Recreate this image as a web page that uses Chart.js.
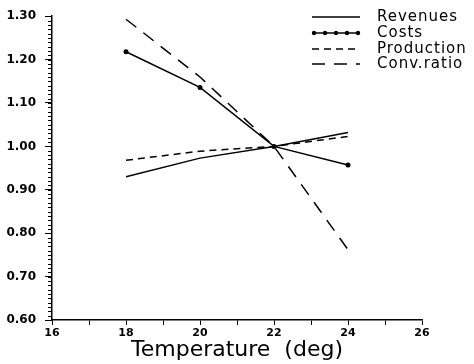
<!DOCTYPE html>
<html>
<head>
<meta charset="utf-8">
<script src="https://cdn.jsdelivr.net/npm/chart.js@4/dist/chart.umd.min.js"></script>
<style>
html,body{margin:0;padding:0;background:#fff;}
canvas{display:block;}
</style>
</head>
<body>
<canvas id="c" width="474" height="364"></canvas>
<script>
const temps = [18, 20, 22, 24];
const revenues = [0.930, 0.973, 1.000, 1.032];
const costs = [1.218, 1.136, 1.000, 0.957];
const production = [0.968, 0.989, 1.000, 1.023];
const convRatio = [1.293, 1.160, 1.000, 0.762];
const seriesNames = ['Revenues', 'Costs', 'Production', 'Conv.ratio'];
const xTitle = 'Temperature  (deg)';
const yMin = 0.6, yMax = 1.3, yStep = 0.1, yMinor = 0.01;
const xMin = 16, xMax = 26;

const pts = arr => temps.map((t, i) => ({x: t, y: arr[i]}));

Chart.defaults.color = '#000';
Chart.defaults.font.family = 'DejaVu Sans';

const minorTicks = {
  id: 'minorTicks',
  afterDraw(chart) {
    const ctx = chart.ctx, y = chart.scales.y, left = chart.chartArea.left;
    ctx.save();
    ctx.strokeStyle = '#000';
    ctx.lineWidth = 1;
    const n = Math.round((yMax - yMin) / yMinor);
    for (let i = 0; i <= n; i++) {
      const py = Math.round(y.getPixelForValue(yMin + i * yMinor)) + 0.5;
      ctx.beginPath();
      ctx.moveTo(left - 4, py);
      ctx.lineTo(left, py);
      ctx.stroke();
    }
    ctx.restore();
  }
};

const legendPlugin = {
  id: 'customLegend',
  afterDraw(chart) {
    const ctx = chart.ctx;
    const right = chart.chartArea.right;
    const x1 = right - 110, x2 = right - 62, tx = right - 45;
    const rows = [17, 33, 49, 64];
    ctx.save();
    chart.data.datasets.forEach((ds, i) => {
      const yy = rows[i];
      ctx.strokeStyle = '#000';
      ctx.lineWidth = ds.borderWidth;
      ctx.setLineDash(ds.borderDash || []);
      ctx.beginPath();
      ctx.moveTo(x1, yy);
      ctx.lineTo(x2, yy);
      ctx.stroke();
      ctx.setLineDash([]);
      if (ds.pointRadius > 0) {
        ctx.fillStyle = '#000';
        for (let k = 0; k < 5; k++) {
          ctx.beginPath();
          ctx.arc(x1 + 2 + k * 11, yy, 2.2, 0, Math.PI * 2);
          ctx.fill();
        }
      }
      ctx.fillStyle = '#000';
      ctx.font = '15px "DejaVu Sans"';
      try { ctx.letterSpacing = '1px'; } catch (e) {}
      ctx.textBaseline = 'middle';
      ctx.textAlign = 'left';
      ctx.fillText(ds.label, tx, yy);
    });
    ctx.restore();
  }
};

new Chart(document.getElementById('c'), {
  type: 'line',
  data: {
    datasets: [
      {label: seriesNames[0], data: pts(revenues), borderColor: '#000', borderWidth: 1.5, pointRadius: 0, borderDash: []},
      {label: seriesNames[1], data: pts(costs), borderColor: '#000', backgroundColor: '#000', borderWidth: 1.5, pointRadius: 2.5, pointBorderWidth: 0, borderDash: []},
      {label: seriesNames[2], data: pts(production), borderColor: '#000', borderWidth: 1.5, pointRadius: 0, borderDash: [7, 5]},
      {label: seriesNames[3], data: pts(convRatio), borderColor: '#000', borderWidth: 1.5, pointRadius: 0, borderDash: [13, 9]}
    ]
  },
  options: {
    responsive: false,
    animation: false,
    layout: {padding: {top: 12, right: 52, left: 0, bottom: 0}},
    plugins: {legend: {display: false}, tooltip: {enabled: false}},
    elements: {line: {tension: 0}},
    scales: {
      x: {
        type: 'linear', min: xMin, max: xMax,
        afterFit(s) { s.height = 44; },
        border: {display: true, color: '#000', width: 1.5},
        grid: {display: true, drawOnChartArea: false, drawTicks: true, tickLength: 5, color: '#000', lineWidth: 1},
        ticks: {
          stepSize: 1, autoSkip: false, maxRotation: 0, padding: 2,
          font: {size: 11, weight: 'bold'},
          callback: v => (v % 2 === 0 ? String(v) : '')
        },
        title: {display: true, text: xTitle, font: {size: 22, weight: 'normal'}, padding: {top: 0, bottom: 1}}
      },
      y: {
        min: yMin, max: yMax,
        afterFit(s) { s.width = 52; },
        border: {display: true, color: '#000', width: 1.5},
        grid: {display: true, drawOnChartArea: false, drawTicks: true, tickLength: 7, color: '#000', lineWidth: 1},
        ticks: {
          stepSize: yStep, padding: 9,
          font: {size: 12, weight: 'bold'},
          callback: v => Number(v).toFixed(2)
        }
      }
    }
  },
  plugins: [minorTicks, legendPlugin]
});
</script>
</body>
</html>
